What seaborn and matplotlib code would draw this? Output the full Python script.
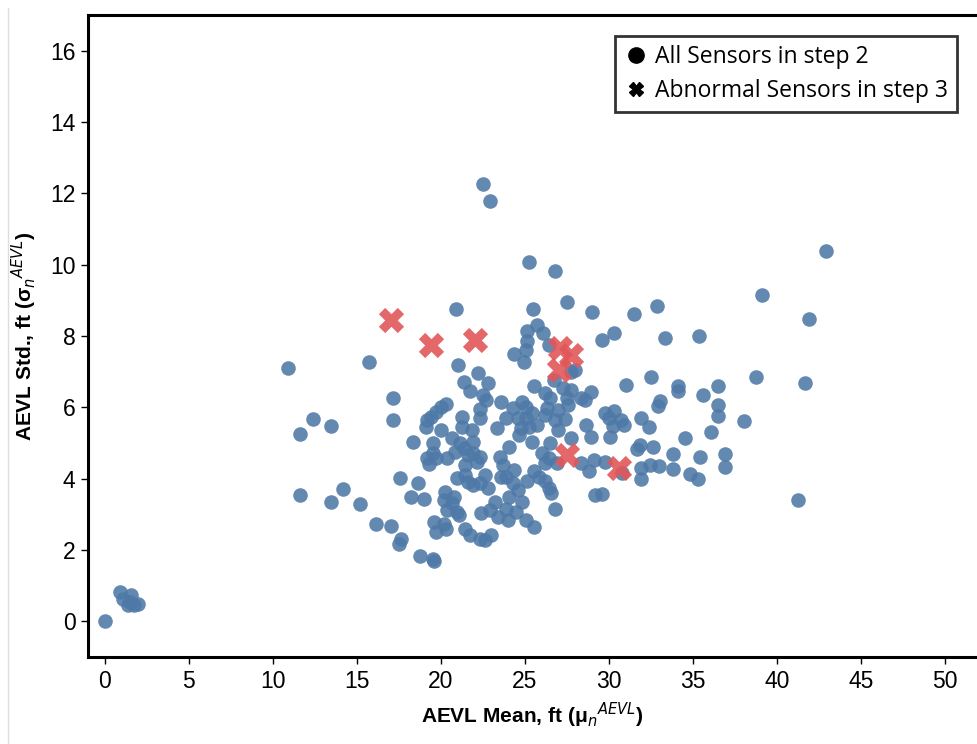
import numpy as np
import pandas as pd
import seaborn as sns
import matplotlib.pyplot as plt
from matplotlib.lines import Line2D

# AEVL mean / std for all sensors (step 2)
mean_all = [
    0.0, 0.92, 1.07, 1.56, 1.36, 1.75, 2.0, 1.5,
    10.88, 15.7, 12.36, 11.6, 13.47, 11.6, 13.47, 14.2, 15.2, 16.16,
    22.52, 22.91, 25.24, 26.8, 27.48, 20.88, 25.5, 28.98, 25.73, 25.15, 26.08,
    42.9, 39.1, 41.93, 31.49, 32.83, 29.58, 30.3, 33.34, 35.35, 32.5, 31.04, 38.73, 41.69,
    28.94, 34.08, 34.08, 36.51, 35.62, 33.03, 32.89, 36.46, 36.51, 38.01, 29.76, 30.3,
    30.0, 30.73, 30.89, 30.26, 31.92, 32.37, 36.09, 28.94, 30.07, 34.53, 31.86, 31.66,
    32.6, 33.79, 35.4, 36.9, 29.1, 29.76, 31.9, 32.44, 32.97, 33.79, 34.82, 35.27, 36.9,
    31.92, 29.17, 29.58, 41.25, 30.8,
    25.14, 25.05, 24.37, 24.95, 26.41, 27.97, 27.77, 26.7, 25.53, 27.29, 27.77, 26.2,
    26.51, 27.48, 28.36, 23.59, 24.85, 24.27, 25.05, 26.31, 26.99, 27.58, 28.55, 25.44,
    24.56, 25.05, 26.22, 26.8, 27.38, 23.88, 25.73, 25.24, 24.75, 26.99, 28.65, 23.33,
    25.44, 27.77, 24.66, 26.51,
    21.0, 22.22, 21.35, 22.81, 21.74, 22.52, 17.16, 17.16, 20.28, 19.98, 19.7, 19.4,
    19.2, 19.1, 19.98, 21.25, 21.25, 22.32, 22.32, 21.83, 20.67, 21.15, 21.93, 19.5,
    18.33, 22.7,
    19.5, 19.2, 19.69, 19.3, 20.37, 20.86, 21.35, 21.93, 22.32, 21.64, 21.44, 22.13,
    20.96, 21.44, 21.64, 21.93, 22.32, 22.61, 22.81, 23.2, 22.9, 23.39, 22.36, 17.55,
    18.62, 18.23, 18.97, 20.22, 20.18, 20.76, 20.67, 20.34, 20.96, 21.06, 17.02, 17.65,
    17.49, 19.56, 20.18, 19.69, 20.28, 21.44, 21.74, 22.32, 22.61, 23.0, 18.76, 19.5, 19.6,
    24.07, 26.02, 26.41, 26.22, 26.9, 28.36, 28.84, 23.49, 23.68, 24.37, 23.59, 23.88,
    25.53, 25.14, 25.83, 26.22, 26.41, 26.57, 24.31, 24.56, 26.8, 24.07, 24.85, 23.88,
    24.46, 23.98, 25.05, 25.53,
]
std_all = [
    0.02, 0.82, 0.64, 0.75, 0.45, 0.45, 0.5, 0.55,
    7.09, 7.28, 5.66, 5.26, 5.47, 3.54, 3.35, 3.71, 3.3, 2.74,
    12.27, 11.78, 10.07, 9.81, 8.95, 8.77, 8.77, 8.66, 8.31, 8.13, 8.08,
    10.38, 9.16, 8.47, 8.61, 8.83, 7.89, 8.08, 7.94, 8.0, 6.86, 6.64, 6.86, 6.67,
    6.42, 6.61, 6.47, 6.61, 6.34, 6.18, 6.04, 6.06, 5.76, 5.62, 5.83, 5.9,
    5.69, 5.64, 5.5, 5.47, 5.69, 5.44, 5.31, 5.17, 5.16, 5.13, 4.94, 4.82,
    4.89, 4.69, 4.61, 4.69, 4.52, 4.48, 4.31, 4.38, 4.35, 4.28, 4.14, 4.0, 4.33,
    4.0, 3.54, 3.56, 3.39, 4.15,
    7.85, 7.61, 7.5, 7.28, 7.75, 7.05, 7.0, 6.77, 6.6, 6.54, 6.49, 6.4,
    6.25, 6.25, 6.25, 6.16, 6.16, 5.97, 6.02, 5.97, 5.93, 6.07, 6.2, 5.83,
    5.69, 5.69, 5.79, 5.65, 5.66, 5.69, 5.51, 5.46, 5.41, 5.37, 5.51, 5.41,
    5.04, 5.13, 5.22, 4.99,
    7.19, 6.96, 6.72, 6.68, 6.46, 6.35, 6.27, 5.65, 6.09, 6.0, 5.88, 5.72,
    5.65, 5.46, 5.37, 5.72, 5.46, 5.95, 5.69, 5.37, 5.13, 4.99, 5.04, 4.99,
    5.04, 6.2,
    4.71, 4.57, 4.57, 4.41, 4.57, 4.76, 4.85, 4.71, 4.62, 4.66, 4.38, 4.48,
    4.01, 4.1, 3.91, 3.82, 3.87, 4.1, 3.73, 3.35, 3.12, 2.93, 3.04, 4.01,
    3.87, 3.49, 3.43, 3.63, 3.4, 3.49, 3.31, 3.12, 3.07, 2.98, 2.67, 2.32,
    2.18, 2.79, 2.74, 2.51, 2.6, 2.58, 2.42, 2.32, 2.28, 2.42, 1.83, 1.76, 1.69,
    4.9, 4.71, 4.57, 4.43, 4.43, 4.43, 4.22, 4.62, 4.38, 4.24, 4.05, 4.04,
    4.22, 3.94, 4.05, 3.94, 3.75, 3.59, 3.87, 3.68, 3.14, 3.49, 3.35, 3.16,
    3.07, 2.84, 2.84, 2.65,
]

# abnormal sensors (step 3)
mean_abn = [17.03, 19.4, 22.05, 27.07, 27.77, 27.0, 27.48, 30.58]
std_abn = [8.46, 7.75, 7.89, 7.67, 7.47, 7.05, 4.66, 4.3]

x_ticks = list(range(0, 51, 5))
y_ticks = list(range(0, 17, 2))

df_all = pd.DataFrame({"mean": mean_all, "std": std_all})
df_abn = pd.DataFrame({"mean": mean_abn, "std": std_abn})

sns.set_style("white")
plt.rcParams["font.family"] = ["Liberation Sans", "DejaVu Sans"]
plt.rcParams["text.color"] = "black"
plt.rcParams["axes.labelcolor"] = "black"

fig = plt.figure(figsize=(9.77, 7.44), dpi=100)
ax = fig.add_axes([88 / 977, 1 - 657 / 744, 1 - 88 / 977, (657 - 15) / 744])

sns.scatterplot(data=df_all, x="mean", y="std", ax=ax, color="#4e79a7", alpha=0.88,
                s=110, linewidth=0, marker="o")
sns.scatterplot(data=df_abn, x="mean", y="std", ax=ax, color="#e15759", alpha=0.9,
                s=330, linewidth=0, marker="X")

ax.set_xlim(-1, 51.9)
ax.set_ylim(-1, 17)
ax.set_xticks(x_ticks)
ax.set_yticks(y_ticks)
ax.tick_params(axis="both", labelsize=16.5, length=5, width=1, color="black",
               labelcolor="black", direction="out", bottom=True, left=True, pad=4)

for side in ["left", "top", "bottom"]:
    ax.spines[side].set_color("black")
    ax.spines[side].set_linewidth(2.2)
ax.spines["right"].set_visible(False)

ax.set_xlabel("AEVL Mean, ft (μ$_n$$^{AEVL}$)", fontsize=15, fontweight="bold", labelpad=6)
ax.set_ylabel("AEVL Std., ft (σ$_n$$^{AEVL}$)", fontsize=15, fontweight="bold", labelpad=8)

handles = [
    Line2D([], [], marker="o", color="black", linestyle="", markersize=11),
    Line2D([], [], marker="X", color="black", linestyle="", markersize=10),
]
leg = ax.legend(handles, ["All Sensors in step 2", "Abnormal Sensors in step 3"],
                loc="upper right", bbox_to_anchor=(0.978, 0.968), borderaxespad=0,
                frameon=True, fancybox=False, handletextpad=0.35, handlelength=1.0,
                borderpad=0.4, labelspacing=0.45,
                prop={"family": ["Open Sans", "DejaVu Sans"], "size": 16.5})
leg.get_frame().set_edgecolor("black")
leg.get_frame().set_linewidth(2)

# faint page border at left
fig.add_artist(Line2D([8 / 977, 8 / 977], [0, 1 - 8 / 744], color="#dddddd", linewidth=1))

fig.savefig("out.png", dpi=100)
